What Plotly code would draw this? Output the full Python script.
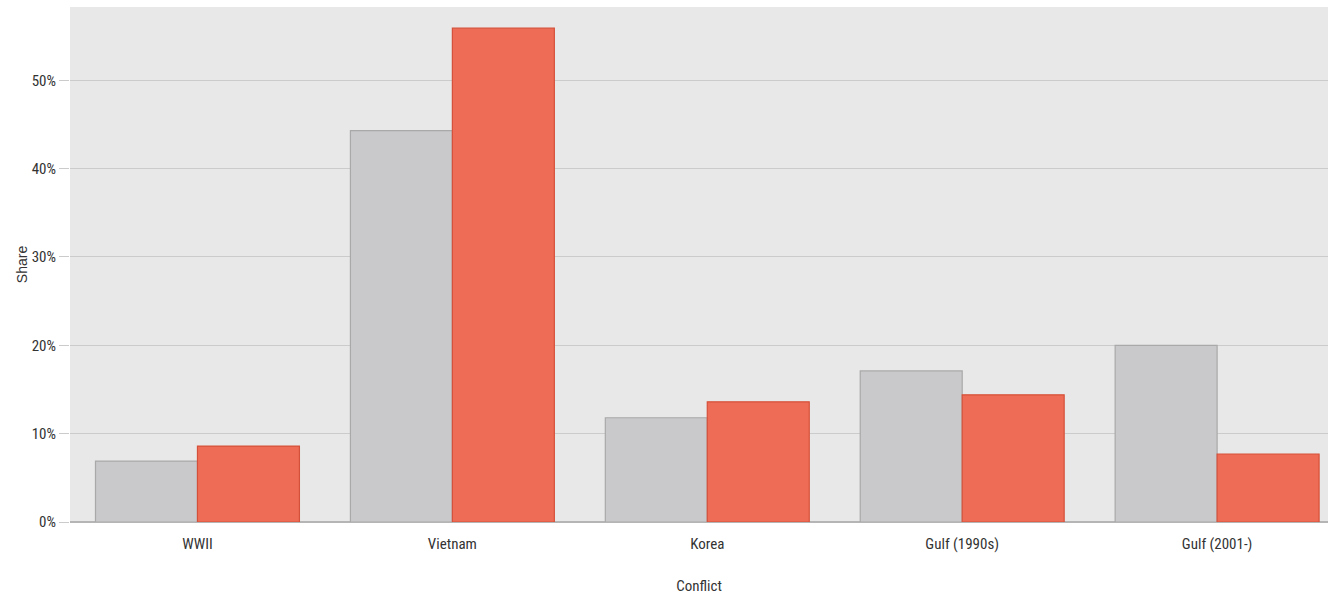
import plotly.graph_objects as go

conflicts = ["WWII", "Vietnam", "Korea", "Gulf (1990s)", "Gulf (2001-)"]
series_a = [6.9, 44.3, 11.8, 17.1, 20.0]
series_b = [8.6, 55.9, 13.6, 14.4, 7.7]
y_ticks = [0, 10, 20, 30, 40, 50]
y_tick_labels = ["0%", "10%", "20%", "30%", "40%", "50%"]

fig = go.Figure()
fig.add_trace(go.Bar(x=conflicts, y=series_a, name="A",
                     marker=dict(color="#c9c9cb", line=dict(color="#a9a9a9", width=1.2))))
fig.add_trace(go.Bar(x=conflicts, y=series_b, name="B",
                     marker=dict(color="#ee6c55", line=dict(color="#d5503a", width=1.2))))

fnt = "Liberation Sans Narrow, Arial Narrow, Roboto Condensed, Roboto, sans-serif"
fig.update_layout(
    width=1328, height=599,
    margin=dict(l=70, r=0, t=7, b=77),
    paper_bgcolor="white", plot_bgcolor="#e8e8e8",
    barmode="group", bargap=0.2, bargroupgap=0,
    showlegend=False,
    xaxis=dict(range=[-0.5, 4.435], showgrid=False, ticks="outside", ticklen=8, tickcolor="rgba(0,0,0,0)",
               tickfont=dict(family=fnt, size=15, color="#333"),
               title=dict(text="Conflict", font=dict(family=fnt, size=15, color="#333"), standoff=28),
               showline=False, zeroline=False),
    yaxis=dict(range=[0, 58.3], tickvals=y_ticks, ticktext=y_tick_labels, showgrid=True, gridcolor="#cbcbcb", gridwidth=1.3,
               ticks="outside", ticklen=10, tickcolor="#cbcbcb", tickwidth=1.3,
               tickfont=dict(family=fnt, size=15, color="#333"),
               title=dict(text="Share", font=dict(family="Liberation Sans, Arial", size=14, color="#333"), standoff=0),
               zeroline=True, zerolinecolor="#b5b5b5", zerolinewidth=1.5),
)
fig.write_html("out.html", config={"displayModeBar": False},
               post_script="document.body.style.margin='0';document.body.style.overflow='hidden';")
